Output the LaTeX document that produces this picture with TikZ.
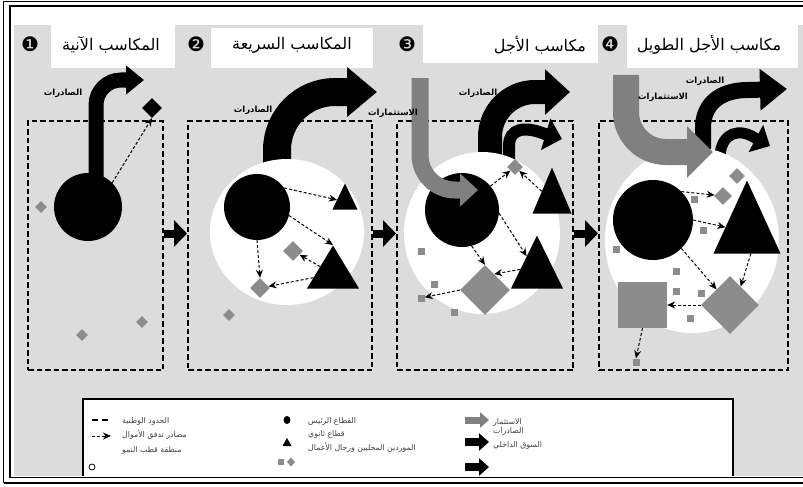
\documentclass[tikz,border=0pt]{standalone}
\usepackage{fontspec}
\newfontfamily\arabicfont[Script=Arabic]{DejaVu Sans}
\newfontfamily\symbolfont{DejaVu Sans}
\TeXXeTstate=1
\usetikzlibrary{arrows.meta,shapes.geometric}
\definecolor{bggray}{HTML}{DCDCDC}
\definecolor{firmgray}{HTML}{8C8C8C}
\definecolor{investgray}{HTML}{808080}
\newcommand{\RTL}[1]{\beginR #1\endR}

\begin{document}
\begin{tikzpicture}[x=1pt,y=-1pt,
  border/.style={draw, line width=2pt, dash pattern=on 5.5pt off 3pt, inner sep=0pt, minimum height=249pt},
  core/.style={circle, fill=black, inner sep=0pt},
  side/.style={isosceles triangle, isosceles triangle stretches, shape border rotate=90, fill=black, inner sep=0pt, anchor=apex},
  supplier/.style={diamond, fill=firmgray, inner sep=0pt},
  firm/.style={rectangle, fill=firmgray, inner sep=0pt, minimum size=7pt},
  pole/.style={ellipse, fill=white, inner sep=0pt},
  flow/.style={-{Stealth[length=8pt,width=7pt]}, line width=1pt, dash pattern=on 3pt off 2pt},
  market/.style={line width=8pt, -{Triangle[length=13pt,width=26pt]}},
  export/.style n args={3}{line width=#1, -{Triangle[length=#2,width=#3]}},
  invest/.style n args={3}{investgray, line width=#1, -{Triangle[length=#2,width=#3]}},
  tag/.style={font=\arabicfont\bfseries\fontsize{8.5}{9}\selectfont, inner sep=0pt},
  title/.style={font=\arabicfont\fontsize{16}{18}\selectfont, inner sep=0pt},
  num/.style={font=\symbolfont\fontsize{20}{20}\selectfont, inner sep=0pt},
  key/.style={font=\arabicfont\fontsize{7.8}{8}\selectfont, text=black!75, anchor=west, inner sep=0pt}]

% frame
\useasboundingbox (0,0) rectangle (803,487);
\fill[bggray] (14,25) rectangle (803,476);
\draw[line width=1pt] (803,1.5) -- (3.5,1.5) -- (3.5,483);
\draw[line width=2pt] (803,6) -- (10,6) -- (10,477.5);
\draw[line width=1.2pt] (10,477.5) -- (803,477.5);
\draw[line width=2pt] (3.5,483) -- (803,483);

% headings
\fill[white] (51,25) rectangle (175,68);
\fill[white] (211,28) rectangle (373,68);
\fill[white] (423,25) rectangle (598,63);
\fill[white] (627,25) rectangle (798,68);
\node[num] (N1) at (30,44) {❶};
\node[num] (N2) at (196,44) {❷};
\node[num] (N3) at (407,44) {❸};
\node[num] (N4) at (610,44) {❹};
\node[title] (H1) at (111,45) {\RTL{المكاسب الآنية}};
\node[title] (H2) at (292,45) {\RTL{المكاسب السريعة}};
\node[title] (H3) at (540,45) {\RTL{مكاسب الأجل}};
\node[title] (H4) at (709,45) {\RTL{مكاسب الأجل الطويل}};

% national borders
\node[border, minimum width=135pt] (B1) at (95.5,245.5) {};
\node[border, minimum width=184pt] (B2) at (280,245.5) {};
\node[border, minimum width=176pt] (B3) at (485,245.5) {};
\node[border, minimum width=189pt] (B4) at (693.5,245.5) {};
\draw[market] ([yshift=12pt]B1.east) -- ([yshift=12pt]B2.west);
\draw[market] ([yshift=12pt]B2.east) -- ([yshift=12pt]B3.west);
\draw[market] ([yshift=12pt]B3.east) -- ([yshift=12pt]B4.west);

% exports
\coordinate (X1) at (96,185);
\coordinate (X2) at (277,185);
\coordinate (X3) at (490,170);
\coordinate (Y3) at (509,170);
\coordinate (X4) at (703,150);
\coordinate (Y4) at (720,155);
\draw[export={15pt}{18pt}{28pt}] (X1) -- (96,105) arc[start angle=180, end angle=270, radius=25] -- (144,80);
\draw[export={28pt}{30pt}{48pt}] (X2) -- (277,150) arc[start angle=180, end angle=270, radius=58] -- (377,92);
\draw[export={24pt}{25pt}{44pt}] (X3) -- (490,137) arc[start angle=180, end angle=270, radius=45] -- (570,92);
\draw[export={12pt}{17pt}{32pt}] (Y3) -- (509,146) .. controls (509,128) and (525,126) .. (545,134) -- (562,139);
\draw[export={16pt}{27pt}{40pt}] (X4) -- (703,128) .. controls (703,104) and (720,90) .. (748,90) -- (787,89);
\draw[export={11pt}{16pt}{30pt}] (Y4) .. controls (722,132) and (740,128) .. (755,138) -- (770,146);

% growth poles
\node[pole, minimum width=154pt, minimum height=146pt] (W2) at (287,232) {};
\node[pole, minimum width=156pt, minimum height=162pt] (W3) at (482,233) {};
\node[pole, minimum width=174pt, minimum height=186pt] (W4) at (692,240) {};

% panel 1
\node[core, minimum size=68pt] (C1) at (88,207) {};
\node[diamond, fill=black, inner sep=0pt, minimum size=20pt] (D1) at (152,108) {};
\node[supplier, minimum size=12pt] (G1a) at (41,207) {};
\node[supplier, minimum size=12pt] (G1b) at (82,335) {};
\node[supplier, minimum size=12pt] (G1c) at (142,322) {};

% panel 2
\node[core, minimum size=66pt] (C2) at (257,207) {};
\node[side, minimum width=25pt, minimum height=26pt] (T2a) at (345,183) {};
\node[side, minimum width=52pt, minimum height=43pt] (T2b) at (333,245) {};
\node[supplier, minimum size=20pt] (G2a) at (293,251) {};
\node[supplier, minimum size=20pt] (G2b) at (260,288) {};
\node[supplier, minimum size=12pt] (G2c) at (229,315) {};

% panel 3
\node[core, minimum size=74pt] (C3) at (462,210) {};
\node[side, minimum width=39pt, minimum height=46pt] (T3a) at (552,167) {};
\node[side, minimum width=52pt, minimum height=53pt] (T3b) at (537,235) {};
\node[supplier, minimum size=16pt] (G3a) at (515,167) {};
\node[supplier, minimum size=50pt] (G3b) at (485,290) {};
\node[firm] (S3a) at (421,251) {};
\node[firm] (S3b) at (434,284) {};
\node[firm] (S3c) at (421,298) {};
\node[firm] (S3d) at (454,312) {};

% panel 4
\node[core, minimum size=80pt] (C4) at (653,220) {};
\node[side, minimum width=67pt, minimum height=73pt] (T4) at (747,180) {};
\node[firm, minimum width=49pt, minimum height=46pt] (Q4) at (642.5,305) {};
\node[supplier, minimum size=58pt] (G4a) at (730,305) {};
\node[supplier, minimum size=16pt] (G4b) at (737,176) {};
\node[supplier, minimum size=18pt] (G4c) at (723,196) {};
\node[firm] (S4a) at (694,199) {};
\node[firm] (S4b) at (703,230) {};
\node[firm] (S4c) at (616,249) {};
\node[firm] (S4d) at (676,271) {};
\node[firm] (S4e) at (676,291) {};
\node[firm] (S4f) at (701,293) {};
\node[firm] (S4g) at (690,318) {};
\node[firm] (S4h) at (636,362) {};

% investment
\coordinate (I3) at (420,78);
\coordinate (I4) at (626,75);
\draw[invest={17pt}{18pt}{32pt}] (I3) -- (420,155) arc[start angle=180, end angle=90, radius=35] -- (478,190);
\draw[invest={26pt}{26pt}{50pt}] (I4) -- (626,112) arc[start angle=180, end angle=90, radius=40] -- (713,152);

% flows of funds
\draw[flow] (C1.45) -- (D1.south);
\draw[flow] (C2.35) -- (T2a);
\draw[flow] (C2.-15) -- (T2b.apex);
\draw[flow] (C2.south) -- (G2b.north);
\draw[flow] (T2b) -- (G2a);
\draw[flow] (T2b) -- (G2b);
\draw[flow] (C3.40) -- (G3a);
\draw[flow] (T3a) -- (G3a);
\draw[flow] (C3.-5) -- (T3b);
\draw[flow] (C3.-75) -- (G3b.north);
\draw[flow] (T3b.170) -- (G3b.60);
\draw[flow] (G3b.west) -- (S3c);
\draw[flow] (C4.45) -- (G4c);
\draw[flow] (C4.0) -- (T4);
\draw[flow] (C4.-45) -- (G4a);
\draw[flow] (T4.-80) -- (G4a.60);
\draw[flow] (G4a.west) -- (Q4.east);
\draw[flow] (Q4.south) -- (S4h.north);

% labels
\node[tag] (E1) at (63,93) {\RTL{الصادرات}};
\node[tag] (E2) at (253,110) {\RTL{الصادرات}};
\node[tag] (V3) at (393,113) {\RTL{الاستثمارات}};
\node[tag] (E3) at (478,93) {\RTL{الصادرات}};
\node[tag] (E4) at (705,81) {\RTL{الصادرات}};
\node[tag] (V4) at (663,97) {\RTL{الاستثمارات}};

% legend
\fill[white] (83,399) rectangle (733,476);
\draw[line width=1.5pt] (83,476) -- (83,399) -- (733,399) -- (733,476);
\draw[line width=2.5pt, dash pattern=on 6pt off 4pt] (92,420) -- (110,420);
\draw[flow] (92,436) -- (111,436);
\draw[line width=0.8pt] (92,467) circle[radius=3];
\fill (287,420) ellipse[x radius=3.5, y radius=4];
\fill (282.5,446) -- (291.5,446) -- (287,438) -- cycle;
\fill[firmgray] (278,459) rectangle (284,465);
\fill[firmgray] (291,457.5) -- (295,462) -- (291,466.5) -- (287,462) -- cycle;
\draw[invest={7pt}{9pt}{15pt}] (465,420) -- (489,420);
\draw[export={8pt}{10pt}{17pt}] (465,442) -- (489,442);
\draw[export={8pt}{10pt}{17pt}] (465,467) -- (489,467);
\node[key] (K1) at (122,421) {\RTL{الحدود الوطنية}};
\node[key] (K2) at (122,435) {\RTL{مصادر تدفق الأموال}};
\node[key] (K3) at (122,450) {\RTL{منطقة قطب النمو}};
\node[key] (K4) at (308,421) {\RTL{القطاع الرئيس}};
\node[key] (K5) at (308,434) {\RTL{قطاع ثانوي}};
\node[key] (K6) at (308,448) {\RTL{الموردين المحليين ورجال الأعمال}};
\node[key] (K7) at (493,422) {\RTL{الاستثمار}};
\node[key] (K8) at (493,431) {\RTL{الصادرات}};
\node[key] (K9) at (493,445) {\RTL{السوق الداخلي}};
\end{tikzpicture}
\end{document}
